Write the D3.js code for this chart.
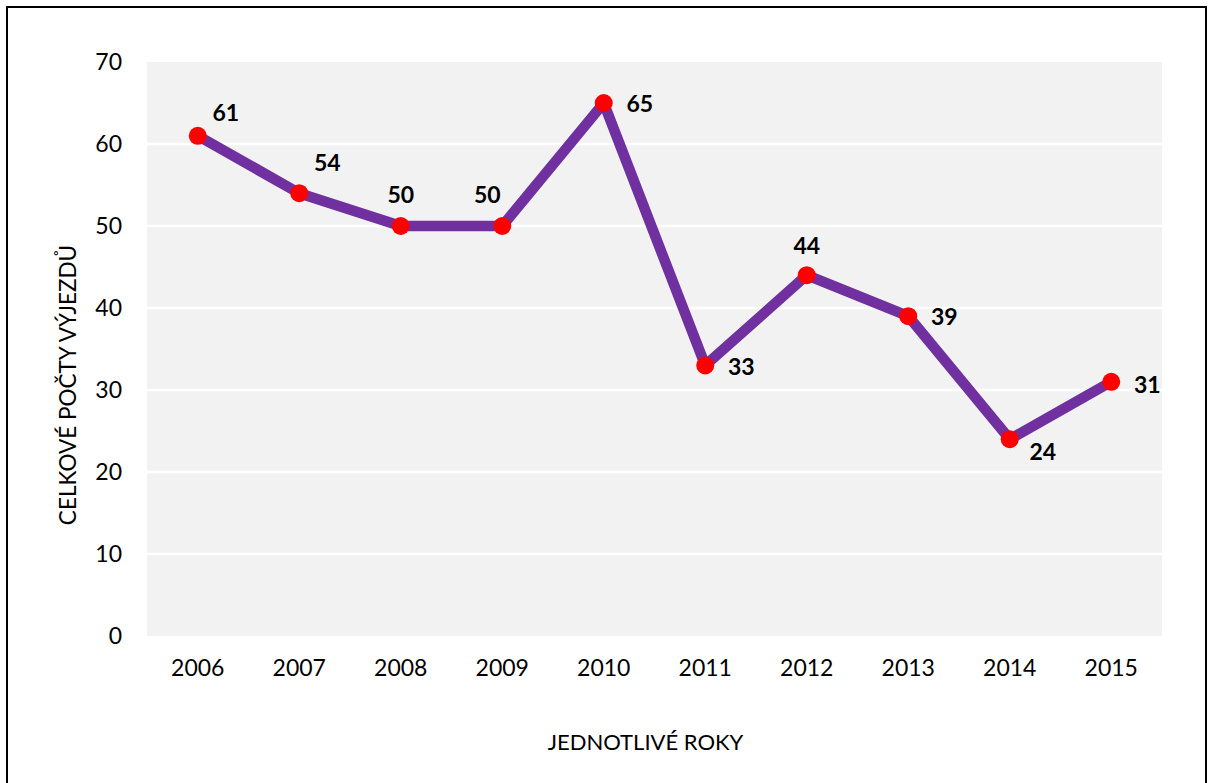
<!DOCTYPE html>
<html>
<head>
<meta charset="utf-8">
<script src="https://cdn.jsdelivr.net/npm/d3@7"></script>
<style>
html,body{margin:0;padding:0;background:#fff;}
svg{display:block;}
text{font-family:Lato,"Open Sans",sans-serif;}
</style>
</head>
<body>
<svg id="chart" width="1209" height="783"></svg>
<script>
const years = ["2006","2007","2008","2009","2010","2011","2012","2013","2014","2015"];
const values = [61,54,50,50,65,33,44,39,24,31];
const yTicks = [0,10,20,30,40,50,60,70];
const xTitle = "JEDNOTLIVÉ ROKY";
const yTitle = "CELKOVÉ POČTY VÝJEZDŮ";
// label placement offsets (dx, dy) relative to each point
const labelDx = [28,28,0,-15,36,36,0,36,33,36];
const labelDy = [-24,-31,-32,-32,0,1,-30,0,12,2];

const svg = d3.select("#chart");
const plot = {left:147, right:1162, top:62, bottom:636};

// frame
svg.append("rect").attr("x",7).attr("y",7).attr("width",1199).attr("height",800)
  .attr("fill","#fff").attr("stroke","#000").attr("stroke-width",2);

// plot background
svg.append("rect").attr("x",plot.left).attr("y",plot.top)
  .attr("width",plot.right-plot.left).attr("height",plot.bottom-plot.top)
  .attr("fill","#f2f2f2");

const x = d3.scaleBand().domain(years).range([plot.left,plot.right]).padding(0);
const y = d3.scaleLinear().domain([0,70]).range([plot.bottom,plot.top]);

// gridlines
svg.append("g").selectAll("line").data(yTicks.filter(t=>t>0&&t<70)).join("line")
  .attr("x1",plot.left).attr("x2",plot.right)
  .attr("y1",d=>y(d)).attr("y2",d=>y(d))
  .attr("stroke","#ffffff").attr("stroke-width",2.5);

// y axis
const yAxis = svg.append("g").attr("transform",`translate(${plot.left},0)`)
  .call(d3.axisLeft(y).tickValues(yTicks).tickSize(0).tickPadding(25));
yAxis.select(".domain").remove();
yAxis.selectAll("text").attr("font-size",23).attr("fill","#000")
  .style("font-family","Lato, 'Open Sans', sans-serif");

// x axis
const xAxis = svg.append("g").attr("transform",`translate(0,${plot.bottom})`)
  .call(d3.axisBottom(x).tickSize(0).tickPadding(24));
xAxis.select(".domain").remove();
xAxis.selectAll("text").attr("font-size",23).attr("fill","#000")
  .style("font-family","Lato, 'Open Sans', sans-serif");

const cx = d => x(d) + x.bandwidth()/2;

// line
const pts = years.map((yr,i)=>({yr, v:values[i], i}));
svg.append("path").datum(pts)
  .attr("d", d3.line().x(d=>cx(d.yr)).y(d=>y(d.v)))
  .attr("fill","none").attr("stroke","#7030a0").attr("stroke-width",10.5)
  .attr("stroke-linejoin","round").attr("stroke-linecap","round");

// markers
svg.append("g").selectAll("circle").data(pts).join("circle")
  .attr("cx",d=>cx(d.yr)).attr("cy",d=>y(d.v)).attr("r",9)
  .attr("fill","#ff0000");

// data labels
svg.append("g").selectAll("text").data(pts).join("text")
  .attr("x",d=>cx(d.yr)+labelDx[d.i])
  .attr("y",d=>y(d.v)+labelDy[d.i])
  .attr("text-anchor","middle").attr("dominant-baseline","central")
  .attr("font-size",23).attr("font-weight","bold").attr("fill","#000")
  .text(d=>d.v);

// axis titles
svg.append("text").attr("x",(plot.left+plot.right)/2-9).attr("y",741)
  .attr("text-anchor","middle").attr("dominant-baseline","central")
  .attr("font-size",22).attr("fill","#000").text(xTitle);
svg.append("text").attr("transform","translate(67,385) rotate(-90)")
  .attr("text-anchor","middle").attr("dominant-baseline","central")
  .attr("font-size",22.5).attr("fill","#000").text(yTitle);
</script>
</body>
</html>
